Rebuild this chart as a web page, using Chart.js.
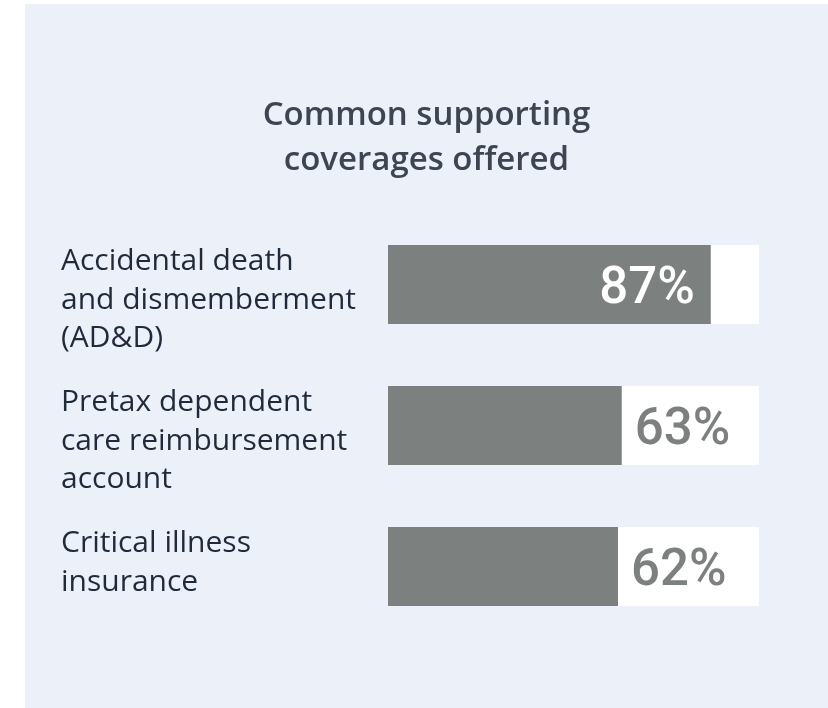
<!DOCTYPE html>
<html>
<head>
<meta charset="utf-8">
<script src="https://cdn.jsdelivr.net/npm/chart.js@4.4.1/dist/chart.umd.min.js"></script>
<style>
    body { margin: 0; background: #ffffff; }
    #panel {
        position: absolute;
        left: 25px;
        top: 4px;
        width: 803px;
        height: 704px;
        background: #ecf0f9;
    }
</style>
</head>
<body>
<div id="panel">
    <canvas id="coverChart" width="803" height="704"></canvas>
</div>
<script>
// 차트 데이터
var chartTitle = ['Common supporting', 'coverages offered'];
var categories = [
    ['Accidental death', 'and dismemberment', '(AD&D)'],
    ['Pretax dependent', 'care reimbursement', 'account'],
    ['Critical illness', 'insurance']
];
var percentValues = [87, 63, 62];
var trackValues = [100, 100, 100];

var barGrey = '#7c807e';
var labelColor = '#1f2b3a';

// 라벨 그리기 플러그인
var labelPlugin = {
    id: 'coverLabels',
    afterDatasetsDraw: function (chart) {
        var ctx = chart.ctx;
        var barMeta = chart.getDatasetMeta(0);
        var trackMeta = chart.getDatasetMeta(1);
        ctx.save();
        for (var i = 0; i < percentValues.length; i++) {
            var bar = barMeta.data[i];
            var track = trackMeta.data[i];
            var top = bar.y - bar.height / 2;

            // 카테고리 라벨 (막대 위쪽 정렬)
            ctx.font = '30px "Open Sans"';
            ctx.fillStyle = labelColor;
            ctx.textAlign = 'left';
            ctx.textBaseline = 'alphabetic';
            var lines = categories[i];
            for (var j = 0; j < lines.length; j++) {
                ctx.fillText(lines[j], 36, top + 25 + j * 38.5);
            }

            // 값 라벨
            var text = percentValues[i] + '%';
            ctx.font = '500 51px Roboto';
            var w = ctx.measureText(text).width;
            if (track.x - bar.x < w + 20) {
                ctx.fillStyle = '#ffffff';
                ctx.textAlign = 'right';
                ctx.fillText(text, bar.x - 16, bar.y + 18);
            } else {
                ctx.fillStyle = barGrey;
                ctx.textAlign = 'left';
                ctx.fillText(text, bar.x + 13, bar.y + 18);
            }
        }
        ctx.restore();
    }
};

var ctx = document.getElementById('coverChart').getContext('2d');
var myChart = new Chart(ctx, {
    type: 'bar',
    data: {
        labels: categories,
        datasets: [
            {
                label: 'Offered',
                data: percentValues,
                backgroundColor: barGrey,
                grouped: false,
                order: 0
            },
            {
                label: 'Track',
                data: trackValues,
                backgroundColor: '#ffffff',
                grouped: false,
                order: 1
            }
        ]
    },
    options: {
        indexAxis: 'y',
        responsive: false,
        animation: false,
        categoryPercentage: 1,
        barPercentage: 0.56,
        layout: {
            padding: { left: 0, right: 0, top: 0, bottom: 71 }
        },
        scales: {
            x: { display: false, min: 0, max: 100 },
            y: {
                position: 'left',
                ticks: { display: false },
                grid: { display: false },
                border: { display: false },
                afterFit: function (scale) { scale.width = 363; }
            },
            yRight: {
                type: 'category',
                position: 'right',
                ticks: { display: false },
                grid: { display: false },
                border: { display: false },
                afterFit: function (scale) { scale.width = 69; }
            }
        },
        plugins: {
            legend: { display: false },
            tooltip: { enabled: false },
            title: {
                display: true,
                text: chartTitle,
                color: '#3c4551',
                font: { family: '"Open Sans"', size: 33, weight: '600', lineHeight: '45px' },
                padding: { top: 89, bottom: 31 }
            }
        }
    },
    plugins: [labelPlugin]
});
</script>
</body>
</html>
